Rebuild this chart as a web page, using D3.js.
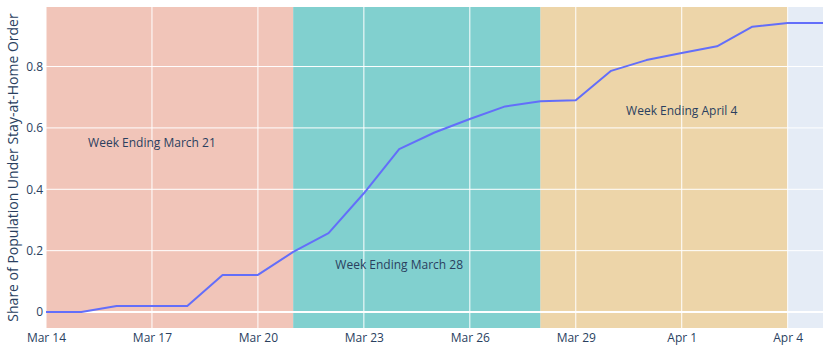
<!DOCTYPE html>
<html>
<head>
<meta charset="utf-8">
<script src="https://cdn.jsdelivr.net/npm/d3@7"></script>
<style>
  html, body { margin: 0; padding: 0; background: #fff; }
  svg { display: block; font-family: "Open Sans", "Noto Sans", sans-serif; }
</style>
</head>
<body>
<svg id="chart" width="833" height="348"></svg>
<script>
// Daily share of population under a stay-at-home order
const dates = [
  "2020-03-14","2020-03-15","2020-03-16","2020-03-17","2020-03-18","2020-03-19",
  "2020-03-20","2020-03-21","2020-03-22","2020-03-23","2020-03-24","2020-03-25",
  "2020-03-26","2020-03-27","2020-03-28","2020-03-29","2020-03-30","2020-03-31",
  "2020-04-01","2020-04-02","2020-04-03","2020-04-04","2020-04-05"
];
const shares = [
  0, 0, 0.02, 0.02, 0.02, 0.121,
  0.121, 0.196, 0.257, 0.387, 0.531, 0.585,
  0.629, 0.670, 0.687, 0.690, 0.786, 0.821,
  0.844, 0.866, 0.930, 0.942, 0.942
];

// Week bands and their captions
const weekStarts = ["2020-03-14", "2020-03-21", "2020-03-28"];
const weekEnds   = ["2020-03-21", "2020-03-28", "2020-04-04"];
const weekColors = ["#F1C5B9", "#81D0CF", "#EDD5A9"];
const weekLabels = ["Week Ending March 21", "Week Ending March 28", "Week Ending April 4"];
const labelDates = ["2020-03-17", "2020-03-24", "2020-04-01"];
const labelValues = [0.55, 0.155, 0.655];

// Axis ticks
const xTickDates = ["2020-03-14","2020-03-17","2020-03-20","2020-03-23","2020-03-26","2020-03-29","2020-04-01","2020-04-04"];
const xTickLabels = ["Mar 14","Mar 17","Mar 20","Mar 23","Mar 26","Mar 29","Apr 1","Apr 4"];
const yTicks = [0, 0.2, 0.4, 0.6, 0.8];
const yTickLabels = ["0", "0.2", "0.4", "0.6", "0.8"];
const yTitle = "Share of Population Under Stay-at-Home Order";

const parse = d3.utcParse("%Y-%m-%d");
const margin = { left: 46, right: 10, top: 7, bottom: 20 };
const plotW = 823 - margin.left;
const plotH = 328 - margin.top;

const svg = d3.select("#chart");
const textColor = "#2a3f5f";

const x = d3.scaleUtc()
  .domain([parse("2020-03-14"), parse("2020-04-05")])
  .range([margin.left, margin.left + plotW]);
const y = d3.scaleLinear()
  .domain([-0.052, 0.994])
  .range([margin.top + plotH, margin.top]);

// Plot background
svg.append("rect")
  .attr("x", margin.left).attr("y", margin.top)
  .attr("width", plotW).attr("height", plotH)
  .attr("fill", "#E5ECF6");

// Week bands
svg.append("g").selectAll("rect")
  .data(weekStarts.map((s, i) => ({ s: parse(s), e: parse(weekEnds[i]), c: weekColors[i] })))
  .join("rect")
  .attr("x", d => x(d.s))
  .attr("width", d => x(d.e) - x(d.s))
  .attr("y", margin.top)
  .attr("height", plotH)
  .attr("fill", d => d.c);

// Gridlines
const grid = svg.append("g");
grid.selectAll("line.vx")
  .data(xTickDates.map(parse))
  .join("line")
  .attr("x1", d => x(d)).attr("x2", d => x(d))
  .attr("y1", margin.top).attr("y2", margin.top + plotH)
  .attr("stroke", "#fff").attr("stroke-width", 1);
grid.selectAll("line.hy")
  .data(yTicks)
  .join("line")
  .attr("x1", margin.left).attr("x2", margin.left + plotW)
  .attr("y1", d => y(d)).attr("y2", d => y(d))
  .attr("stroke", "#fff")
  .attr("stroke-width", d => d === 0 ? 2 : 1);

// Week captions
svg.append("g").selectAll("text")
  .data(weekLabels)
  .join("text")
  .attr("x", (d, i) => x(parse(labelDates[i])))
  .attr("y", (d, i) => y(labelValues[i]))
  .attr("dy", "0.35em")
  .attr("text-anchor", "middle")
  .attr("font-size", 12)
  .attr("fill", textColor)
  .text(d => d);

// Series line
const line = d3.line()
  .x((d, i) => x(parse(dates[i])))
  .y(d => y(d));
svg.append("path")
  .datum(shares)
  .attr("d", line)
  .attr("fill", "none")
  .attr("stroke", "#636EFA")
  .attr("stroke-width", 2)
  .attr("stroke-linejoin", "round");

// X axis labels
const xAxis = d3.axisBottom(x)
  .tickValues(xTickDates.map(parse))
  .tickFormat((d, i) => xTickLabels[i])
  .tickSize(0)
  .tickPadding(5);
const gx = svg.append("g")
  .attr("transform", `translate(0,${margin.top + plotH})`)
  .call(xAxis);
gx.select(".domain").remove();
gx.selectAll("text").attr("font-size", 12).attr("fill", textColor)
  .attr("font-family", "\"Open Sans\", sans-serif");
// Year line under the first date, running past the bottom edge
svg.append("text")
  .attr("x", x(parse("2020-03-14")))
  .attr("y", 357)
  .attr("text-anchor", "middle")
  .attr("font-size", 12)
  .attr("fill", textColor)
  .text("2020");

// Y axis labels
const yAxis = d3.axisLeft(y)
  .tickValues(yTicks)
  .tickFormat((d, i) => yTickLabels[i])
  .tickSize(0)
  .tickPadding(3);
const gy = svg.append("g")
  .attr("transform", `translate(${margin.left},0)`)
  .call(yAxis);
gy.select(".domain").remove();
gy.selectAll("text").attr("font-size", 12).attr("fill", textColor)
  .attr("font-family", "\"Open Sans\", sans-serif");

// Y axis title
svg.append("text")
  .attr("transform", `translate(18,${margin.top + plotH / 2}) rotate(-90)`)
  .attr("text-anchor", "middle")
  .attr("font-size", 14)
  .attr("fill", textColor)
  .text(yTitle);
</script>
</body>
</html>
